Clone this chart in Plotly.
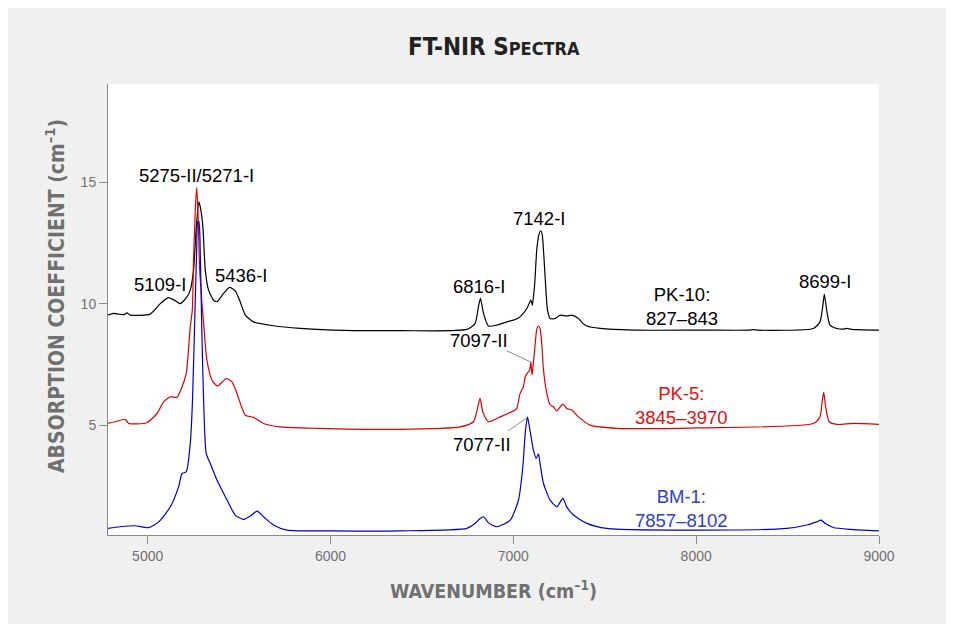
import plotly.graph_objects as go

# ---------------- data ----------------
pk10_x = [4781, 4814, 4841, 4870, 4887, 4905, 5014, 5069, 5114, 5151, 5178, 5215, 5233, 5251,
          5266, 5280, 5290, 5302, 5315, 5333, 5360, 5379, 5415, 5448, 5479, 5506, 5534, 5579,
          5688, 5834, 6016, 6381, 6746, 6791, 6809, 6820, 6837, 6864, 6910, 6964, 7001, 7028,
          7046, 7074, 7096, 7104, 7110, 7117, 7128, 7140, 7150, 7158, 7165, 7176, 7187, 7201,
          7229, 7256, 7292, 7320, 7356, 7380, 7402, 7475, 7657, 8021, 8290, 8313, 8340, 8641,
          8677, 8692, 8701, 8714, 8732, 8769, 8800, 8823, 8850, 9000]
pk10_y = [9.54, 9.61, 9.58, 9.56, 9.63, 9.54, 9.58, 10.01, 10.26, 10.13, 10.01, 10.29, 10.57, 11.39,
          13.17, 14.20, 13.90, 13.17, 11.39, 10.57, 10.16, 10.09, 10.43, 10.68, 10.54, 10.09, 9.54, 9.26,
          9.10, 8.99, 8.92, 8.90, 8.95, 9.20, 9.88, 10.23, 9.61, 9.09, 9.13, 9.26, 9.33, 9.42,
          9.54, 9.81, 10.16, 9.95, 10.30, 10.84, 12.21, 12.85, 13.01, 12.85, 12.21, 10.84, 9.74, 9.40,
          9.40, 9.54, 9.50, 9.54, 9.40, 9.20, 9.09, 8.99, 8.92, 8.92, 8.92, 8.94, 8.92, 8.99,
          9.26, 9.88, 10.39, 9.74, 9.13, 8.99, 8.96, 8.99, 8.95, 8.92]

pk5_x = [4781, 4823, 4877, 4896, 4995, 5051, 5087, 5124, 5160, 5188, 5211, 5233, 5244, 5251,
         5260, 5268, 5276, 5284, 5297, 5306, 5324, 5352, 5382, 5430, 5461, 5488, 5534, 5579,
         5634, 5725, 5926, 6381, 6709, 6782, 6806, 6818, 6833, 6864, 6928, 7010, 7019, 7037,
         7055, 7065, 7075, 7083, 7090, 7096, 7102, 7110, 7119, 7128, 7137, 7146, 7156, 7165,
         7183, 7201, 7219, 7238, 7271, 7292, 7320, 7356, 7420, 7566, 8021, 8641, 8677, 8690,
         8698, 8708, 8728, 8769, 8860, 9000]
pk5_y = [5.08, 5.15, 5.25, 5.08, 5.11, 5.49, 5.97, 6.18, 6.15, 6.59, 7.14, 9.06, 9.74, 11.80,
         13.80, 14.80, 13.60, 11.50, 10.00, 9.20, 7.69, 6.86, 6.62, 6.93, 6.79, 6.32, 5.42, 5.33,
         5.08, 4.94, 4.88, 4.84, 4.94, 5.15, 5.77, 6.11, 5.56, 5.15, 5.35, 5.63, 5.70, 6.32,
         6.59, 7.00, 7.14, 7.20, 7.30, 7.62, 7.07, 7.60, 8.30, 8.95, 9.09, 9.00, 8.30, 7.28,
         6.32, 5.85, 5.77, 5.60, 5.88, 5.70, 5.63, 5.35, 5.01, 4.88, 4.90, 5.08, 5.35, 6.04,
         6.36, 5.77, 5.15, 5.04, 5.08, 5.04]

bm1_x = [4781, 4850, 4932, 5005, 5060, 5124, 5169, 5188, 5211, 5233, 5245, 5258, 5268, 5274,
         5280, 5288, 5296, 5306, 5320, 5342, 5379, 5434, 5479, 5524, 5561, 5598, 5634, 5688,
         5762, 6016, 6381, 6746, 6791, 6818, 6837, 6864, 6910, 6983, 7028, 7052, 7065, 7077,
         7088, 7110, 7125, 7137, 7146, 7165, 7201, 7238, 7271, 7292, 7329, 7402, 7511, 8021,
         8495, 8605, 8659, 8683, 8705, 8750, 8840, 9000]
bm1_y = [0.76, 0.83, 0.87, 0.79, 1.03, 1.65, 2.47, 3.02, 3.09, 4.26, 6.00, 9.50, 12.20, 13.38,
         13.38, 12.00, 9.00, 6.00, 3.85, 3.44, 2.75, 1.93, 1.31, 1.13, 1.27, 1.47, 1.24, 0.90,
         0.69, 0.66, 0.66, 0.76, 0.97, 1.17, 1.24, 0.99, 0.83, 1.10, 1.93, 3.30, 4.67, 5.35,
         4.94, 3.98, 3.64, 3.82, 3.44, 2.61, 1.93, 1.65, 2.00, 1.65, 1.31, 0.97, 0.76, 0.69,
         0.76, 0.90, 1.03, 1.10, 0.97, 0.80, 0.72, 0.66]

x_ticks = [5000, 6000, 7000, 8000, 9000]
y_ticks = [5, 10, 15]

peak_labels = ["5275-II/5271-I", "5109-I", "5436-I", "6816-I", "7142-I", "7097-II", "7077-II", "8699-I"]
peak_label_x = [5266, 5065, 5510, 6813, 7143, 6813, 6828, 8705]
peak_label_y = [15.30, 10.81, 11.16, 10.73, 13.52, 8.51, 4.23, 10.91]

sample_labels = ["PK-10:<br>827–843", "PK-5:<br>3845–3970", "BM-1:<br>7857–8102"]
sample_label_x = [7921, 7921, 7921]
sample_label_y = [9.90, 5.82, 1.60]

leader_x0 = [6964, 6973]
leader_y0 = [8.07, 4.78]
leader_x1 = [7092, 7077]
leader_y1 = [7.62, 5.33]

# ---------------- styles ----------------
BLACK = "#000000"
RED_LINE = "#e00000"
BLUE_LINE = "#0000cc"
RED_TEXT = "#dd1111"
BLUE_TEXT = "#2d40cc"
AXIS_GRAY = "#8a8a8a"
TICK_TXT = "#707070"
TITLE_FONT = "Liberation Sans Narrow, DejaVu Sans Condensed, Lato, sans-serif"
LABEL_FONT = "Liberation Sans, Arial, sans-serif"

fig = go.Figure()
for xs, ys, col in [(pk10_x, pk10_y, BLACK), (pk5_x, pk5_y, RED_LINE), (bm1_x, bm1_y, BLUE_LINE)]:
    fig.add_trace(go.Scatter(x=xs, y=ys, mode="lines", line=dict(color=col, width=1.2, shape="spline", smoothing=0.6),
                             hoverinfo="skip", showlegend=False))

W, H = 954, 624
OFF = 8  # page body margin offset of the figure on screen
L, R, T, B = 100, 83, 76, 97
pw, ph = W - L - R, H - T - B

def px2paper_x(px):
    return (px - OFF - L) / pw

def px2paper_y(py):
    return (H - B - (py - OFF)) / ph

annotations = []
for txt, x, y in zip(peak_labels, peak_label_x, peak_label_y):
    annotations.append(dict(x=x, y=y, xref="x", yref="y", text=txt, showarrow=False,
                            xanchor="center", yanchor="middle",
                            font=dict(family=LABEL_FONT, size=18.5, color=BLACK)))
for txt, x, y, col in zip(sample_labels, sample_label_x, sample_label_y, [BLACK, RED_TEXT, BLUE_TEXT]):
    annotations.append(dict(x=x, y=y, xref="x", yref="y", text=txt, showarrow=False,
                            xanchor="center", yanchor="middle",
                            font=dict(family=LABEL_FONT, size=18.5, color=col)))

annotations.append(dict(x=px2paper_x(494), y=px2paper_y(47), xref="paper", yref="paper", showarrow=False,
                        xanchor="center", yanchor="middle",
                        text="<b>FT-NIR S<span style='font-size:18px'>PECTRA</span></b>",
                        font=dict(family=TITLE_FONT, size=24, color="#222222")))
annotations.append(dict(x=px2paper_x(493), y=px2paper_y(590), xref="paper", yref="paper", showarrow=False,
                        xanchor="center", yanchor="middle",
                        text="<b>WAVENUMBER (cm<sup>–1</sup>)</b>",
                        font=dict(family=TITLE_FONT, size=19.5, color="#707070")))
annotations.append(dict(x=px2paper_x(55), y=px2paper_y(296), xref="paper", yref="paper", showarrow=False,
                        xanchor="center", yanchor="middle", textangle=-90,
                        text="<b>ABSORPTION COEFFICIENT (cm<sup>–1</sup>)</b>",
                        font=dict(family=TITLE_FONT, size=21, color="#707070")))

shapes = []
for x0, y0, x1, y1 in zip(leader_x0, leader_y0, leader_x1, leader_y1):
    shapes.append(dict(type="line", xref="x", yref="y", x0=x0, y0=y0, x1=x1, y1=y1,
                       line=dict(color="#8a8a8a", width=1)))

fig.update_layout(
    width=W, height=H,
    margin=dict(l=L, r=R, t=T, b=B, pad=0),
    paper_bgcolor="#f0f0f0",
    plot_bgcolor="white",
    annotations=annotations,
    shapes=shapes,
    showlegend=False,
    xaxis=dict(range=[4783, 9000], tickvals=x_ticks, ticktext=[str(v) for v in x_ticks],
               showgrid=False, zeroline=False, showline=True, linecolor=AXIS_GRAY, linewidth=1,
               ticks="outside", ticklen=8, tickcolor=AXIS_GRAY, tickwidth=1,
               tickfont=dict(family=LABEL_FONT, size=14, color=TICK_TXT), fixedrange=True),
    yaxis=dict(range=[0.49, 19.05], tickvals=y_ticks, ticktext=[str(v) for v in y_ticks],
               showgrid=False, zeroline=False, showline=True, linecolor=AXIS_GRAY, linewidth=1,
               ticks="outside", ticklen=8, tickcolor=AXIS_GRAY, tickwidth=1,
               tickfont=dict(family=LABEL_FONT, size=14, color=TICK_TXT), fixedrange=True),
)

fig.write_html("out.html")
